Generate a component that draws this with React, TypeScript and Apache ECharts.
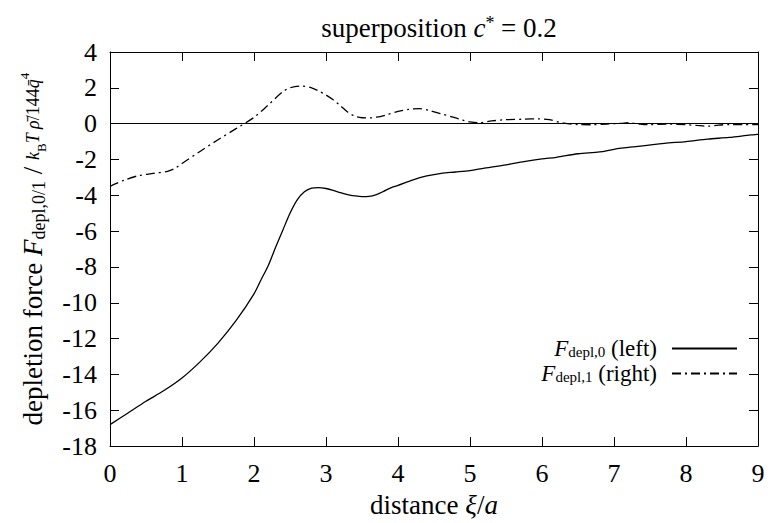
import React, { useEffect, useRef } from "react";
import * as echarts from "echarts";

const xLeft = [0, 0.25, 0.5, 0.75, 1.0, 1.25, 1.5, 1.75, 2.0, 2.1, 2.2, 2.3, 2.4, 2.5, 2.6, 2.7, 2.8, 2.9, 3.0, 3.1, 3.2, 3.3, 3.4, 3.5, 3.6, 3.7, 3.8, 3.9, 4.0, 4.2, 4.4, 4.6, 4.8, 5.0, 5.2, 5.5, 5.75, 6.0, 6.2, 6.5, 6.8, 7.0, 7.3, 7.7, 8.0, 8.3, 8.6, 8.9, 9.0];
const fLeft = [-16.8, -16.15, -15.5, -14.9, -14.2, -13.3, -12.25, -11.0, -9.5, -8.7, -7.9, -6.9, -5.95, -5.0, -4.25, -3.8, -3.6, -3.57, -3.62, -3.72, -3.85, -3.96, -4.03, -4.07, -4.06, -3.96, -3.78, -3.58, -3.45, -3.15, -2.92, -2.77, -2.7, -2.62, -2.48, -2.3, -2.12, -1.97, -1.88, -1.68, -1.58, -1.43, -1.28, -1.1, -1.0, -0.86, -0.77, -0.63, -0.6];

const xRight = [0, 0.2, 0.4, 0.6, 0.8, 0.9, 1.0, 1.25, 1.5, 1.75, 2.0, 2.2, 2.4, 2.5, 2.65, 2.8, 2.9, 3.0, 3.1, 3.2, 3.3, 3.4, 3.5, 3.6, 3.7, 3.85, 4.0, 4.15, 4.3, 4.45, 4.6, 4.75, 4.9, 5.0, 5.13, 5.3, 5.5, 5.75, 5.95, 6.1, 6.3, 6.5, 6.7, 6.9, 7.1, 7.2, 7.35, 7.5, 7.75, 8.0, 8.15, 8.3, 8.45, 8.6, 8.8, 9.0];
const fRight = [-3.5, -3.15, -2.9, -2.78, -2.66, -2.5, -2.22, -1.55, -0.9, -0.28, 0.35, 1.05, 1.78, 2.0, 2.1, 2.0, 1.82, 1.6, 1.33, 1.0, 0.65, 0.42, 0.33, 0.32, 0.36, 0.5, 0.68, 0.8, 0.84, 0.72, 0.55, 0.38, 0.2, 0.1, 0.05, 0.15, 0.22, 0.25, 0.27, 0.22, 0.03, -0.05, -0.06, -0.02, 0.02, 0.05, -0.02, -0.06, -0.02, -0.06, -0.1, -0.14, -0.08, -0.05, -0.06, -0.05];

const xMin = 0, xMax = 9, xStep = 1;
const yMin = -18, yMax = 4, yStep = 2;

const FONT = "'Liberation Serif', 'Times New Roman', serif";
const FS = 26;
const NS = 27;

const base = { fontFamily: FONT, color: "#000", fontWeight: "normal" };
const rich = {
  n: { ...base, fontSize: NS },
  i: { ...base, fontSize: NS, fontStyle: "italic" },
  s: { ...base, fontSize: 18, verticalAlign: "bottom", padding: [12, 0, 0, 0] },
  p: { ...base, fontSize: 18, verticalAlign: "top", padding: [0, 0, 10, 0] },
  fi: { ...base, fontSize: 18, fontStyle: "italic" },
  fn: { ...base, fontSize: 18 },
  fs: { ...base, fontSize: 13, verticalAlign: "bottom", padding: [8, 0, 0, 0] },
  fp: { ...base, fontSize: 13, verticalAlign: "top", padding: [0, 0, 8, 0] },
};
const legendRich = {
  n: { ...base, fontSize: 23, lineHeight: 21 },
  i: { ...base, fontSize: 23, lineHeight: 21, fontStyle: "italic" },
  s: { ...base, fontSize: 15, lineHeight: 14, verticalAlign: "bottom", padding: [7, 0, 0, 0] },
};

export default function App() {
  const ref = useRef<HTMLDivElement>(null);
  useEffect(() => {
    if (!ref.current) return;
    const chart = echarts.init(ref.current, null, { renderer: "svg" });
    const axisCommon = {
      axisLine: { show: true, onZero: false, lineStyle: { color: "#000", width: 1 } },
      axisTick: { show: true, inside: true, length: 9, lineStyle: { color: "#000", width: 1 } },
      splitLine: { show: false },
    };
    const legendCommon = {
      orient: "vertical",
      align: "right",
      right: 35,
      padding: 0,
      itemWidth: 65,
      itemHeight: 14,
      itemStyle: { color: "rgba(0,0,0,0)", borderColor: "rgba(0,0,0,0)", borderWidth: 0 },
      textStyle: { ...base, rich: legendRich, padding: [0, 10, 0, 0] },
    };
    chart.setOption({
      animation: false,
      backgroundColor: "#fff",
      textStyle: { fontFamily: FONT },
      title: {
        text: "{n|superposition }{i|c}{p|*}{n| = 0.2}",
        left: 434,
        textAlign: "center",
        top: 9,
        textStyle: { ...base, fontSize: NS, rich },
      },
      grid: { left: 110, right: 15, top: 52, bottom: 64, containLabel: false },
      xAxis: [
        {
          type: "value",
          min: xMin,
          max: xMax,
          interval: xStep,
          position: "bottom",
          ...axisCommon,
          axisLabel: { ...base, fontSize: FS, margin: 14 },
          name: "{n|distance }{i|ξ}{n|/}{i|a}",
          nameLocation: "middle",
          nameGap: 36,
          nameTextStyle: { ...base, rich },
        },
        {
          type: "value",
          min: xMin,
          max: xMax,
          interval: xStep,
          position: "top",
          ...axisCommon,
          axisLabel: { show: false },
        },
      ],
      yAxis: [
        {
          type: "value",
          min: yMin,
          max: yMax,
          interval: yStep,
          position: "left",
          ...axisCommon,
          axisLabel: { ...base, fontSize: FS, margin: 13 },
          name: "{n|depletion force }{i|F}{s|depl,0/1}{n| / }{fi|k}{fs|B}{fi|T ρ̄}{fn|/144}{fi|q̄}{fp|4}",
          nameLocation: "middle",
          nameRotate: 90,
          nameGap: 62,
          nameTextStyle: { ...base, rich },
        },
        {
          type: "value",
          min: yMin,
          max: yMax,
          interval: yStep,
          position: "right",
          ...axisCommon,
          axisLabel: { show: false },
        },
      ],
      legend: [
        {
          ...legendCommon,
          data: ["F0"],
          top: 337,
          formatter: () => "{i|F}{s|depl,0}{n| (left)}",
        },
        {
          ...legendCommon,
          data: ["F1"],
          top: 362,
          formatter: () => "{i|F}{s|depl,1}{n| (right)}",
        },
      ],
      series: [
        {
          name: "F0",
          type: "line",
          data: xLeft.map((x, k) => [x, fLeft[k]]),
          symbol: "none",
          smooth: 0.3,
          lineStyle: { color: "#000", width: 1.3, type: "solid" },
          itemStyle: { color: "#000" },
          markLine: {
            silent: true,
            symbol: "none",
            label: { show: false },
            lineStyle: { color: "#000", width: 1, type: "solid" },
            data: [{ yAxis: 0 }],
          },
        },
        {
          name: "F1",
          type: "line",
          data: xRight.map((x, k) => [x, fRight[k]]),
          symbol: "none",
          smooth: 0.3,
          lineStyle: { color: "#000", width: 1.3, type: [9, 4, 2, 4] },
          itemStyle: { color: "#000" },
        },
      ],
    });
    return () => chart.dispose();
  }, []);
  return (
    <div
      ref={ref}
      style={{ position: "absolute", left: 0, top: 0, width: 773, height: 523 }}
    />
  );
}
